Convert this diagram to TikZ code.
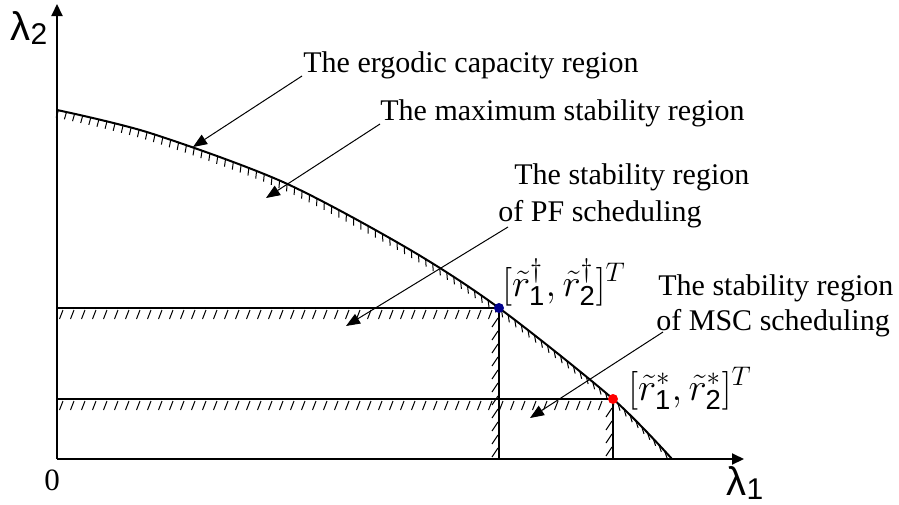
\documentclass[tikz,border=0pt]{standalone}
\usepackage{fontspec}
\setmainfont{Liberation Serif}
\setsansfont{Liberation Sans}
\usetikzlibrary{arrows.meta,decorations.markings}
\begin{document}
\begin{tikzpicture}[x=0.5pt,y=-0.5pt,
  lbl/.style={font=\fontsize{15}{18}\selectfont, inner sep=0pt, anchor=base west},
  mlbl/.style={font=\fontsize{17.5}{21}\selectfont, inner sep=0pt, anchor=base west},
  axislbl/.style={font=\sffamily\fontsize{20}{24}\selectfont, inner sep=0pt},
  axis/.style={line width=1pt, -{Triangle[length=6pt,width=5.5pt]}},
  bound/.style={line width=1pt},
  pointer/.style={line width=0.5pt, -{Triangle[length=7pt,width=5.5pt]}},
  hatch/.style={line width=0.5pt},
  dot/.style={circle, inner sep=0pt, minimum size=5pt},
]
\useasboundingbox (0,0) rectangle (899,504);

% axes
\coordinate (O) at (57,459);
\coordinate (ytip) at (57,4);
\coordinate (xtip) at (744,459);
\draw[axis] (O) -- (ytip);
\draw[axis] (O) -- (xtip);
\node[axislbl] (l2) at (29,28) {λ\raisebox{-2pt}{\fontsize{15}{17}\selectfont 2}};
\node[axislbl] (l1) at (745,483) {λ\raisebox{-2pt}{\fontsize{15}{17}\selectfont 1}};
\node[font=\fontsize{15.5}{18}\selectfont, inner sep=0pt] (zero) at (52,480) {0};

% capacity region boundary with hatch ticks
\draw[bound, postaction={decorate}, decoration={markings,
  mark=between positions 0.002 and 0.995 step 4.15pt with {
    \pgfmathsetmacro\tkang{-107+37*\pgfkeysvalueof{/pgf/decoration/mark info/distance from start}/\pgfdecoratedpathlength}
    \pgftransformresetnontranslations
    \draw[hatch] (0,0) -- (\tkang:3.8pt);
  }}]
  plot[smooth] coordinates {(57,110) (150,133) (283,182) (407,248) (499,308) (613,399) (672,459)};

% PF stability region
\coordinate (pfL) at (57,308);
\coordinate (pfP) at (499,308);
\coordinate (pfB) at (499,459);
\draw[bound] (pfL) -- (pfP) -- (pfB);
\foreach \x in {63,74,...,495} \draw[hatch] (\x,310) -- ++(-3.5,9);
\foreach \y in {318,331,...,459} \draw[hatch] (498,\y) -- ++(-6,9);

% MSC stability region
\coordinate (msL) at (57,399);
\coordinate (msP) at (613,399);
\coordinate (msB) at (613,459);
\draw[bound] (msL) -- (msP) -- (msB);
\foreach \x in {63,74,...,609} \draw[hatch] (\x,401) -- ++(-3.5,9);
\foreach \y in {408,421,...,459} \draw[hatch] (612,\y) -- ++(-6,9);

% points
\node[dot, fill={rgb,255:red,0;green,0;blue,140}] (pfpt) at (pfP) {};
\node[dot, fill=red] (mspt) at (msP) {};
\node[mlbl] (pflab) at (502,296) {\scalebox{1.12}{$[\tilde r^{\dagger}_{\mathsf{1}},\tilde r^{\dagger}_{\mathsf{2}}]^T$}};
\node[mlbl] (mslab) at (628,400) {\scalebox{1.12}{$[\tilde r^{*}_{\mathsf{1}},\tilde r^{*}_{\mathsf{2}}]^T$}};

% labels
\node[lbl] (erg) at (303,72) {The ergodic capacity region};
\node[lbl] (mx) at (380,120) {The maximum stability region};
\node[lbl] (pf1) at (514,184) {The stability region};
\node[lbl] (pf2) at (498,221) {of PF scheduling};
\node[lbl] (ms1) at (658,295) {The stability region};
\node[lbl] (ms2) at (656,330) {of MSC scheduling};

% pointers
\coordinate (a1s) at (302,76);  \coordinate (a1e) at (193,147);
\coordinate (a2s) at (380,124); \coordinate (a2e) at (266,198);
\coordinate (a3s) at (508,227); \coordinate (a3e) at (346,326);
\coordinate (a4s) at (663,332); \coordinate (a4e) at (530,418);
\draw[pointer] (a1s) -- (a1e);
\draw[pointer] (a2s) -- (a2e);
\draw[pointer] (a3s) -- (a3e);
\draw[pointer] (a4s) -- (a4e);
\end{tikzpicture}
\end{document}
